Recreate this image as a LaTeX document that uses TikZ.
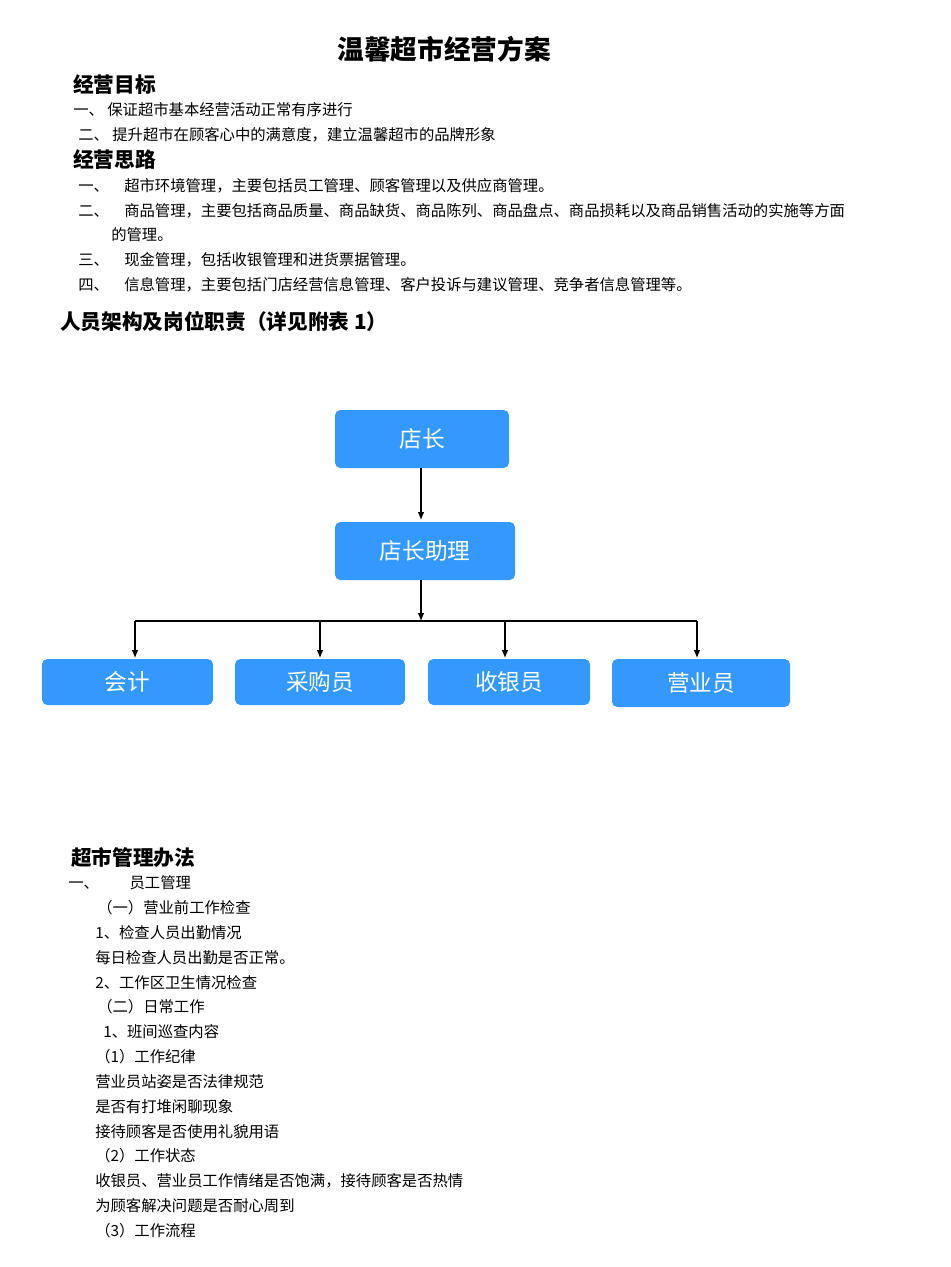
\documentclass[tikz,border=0pt]{standalone}
\usepackage{fontspec}
\setmainfont{Noto Sans CJK SC}
\usetikzlibrary{arrows.meta}
\begin{document}
\begin{tikzpicture}[x=0.75pt,y=-0.75pt,
  body/.style={anchor=west,inner sep=0pt,font=\fontsize{11.5}{13}\selectfont},
  head/.style={anchor=west,inner sep=0pt,font=\fontsize{15.5}{18}\selectfont\bfseries},
  box/.style={fill=blue!55!cyan!80!white,fill=boxc,rounded corners=4pt,text=white,font=\fontsize{17}{20}\selectfont},
  arr/.style={-{Latex[length=6pt,width=5pt]},thick}]
\definecolor{boxc}{HTML}{3399FF}
\useasboundingbox (0,0) rectangle (950,1267);
\node[font=\fontsize{20}{24}\selectfont\bfseries] (title) at (444,49) {温馨超市经营方案};
\node[head] (h1) at (73,85) {经营目标};
\node[body] (a1) at (73,110) {一、 保证超市基本经营活动正常有序进行};
\node[body] (a2) at (78,135) {二、 提升超市在顾客心中的满意度，建立温馨超市的品牌形象};
\node[head] (h2) at (73,160) {经营思路};
\node[body] (b1) at (78,186) {一、\quad 超市环境管理，主要包括员工管理、顾客管理以及供应商管理。};
\node[body] (b2) at (78,211) {二、\quad 商品管理，主要包括商品质量、商品缺货、商品陈列、商品盘点、商品损耗以及商品销售活动的实施等方面};
\node[body] (b3) at (111,235) {的管理。};
\node[body] (b4) at (78,260) {三、\quad 现金管理，包括收银管理和进货票据管理。};
\node[body] (b5) at (78,285) {四、\quad 信息管理，主要包括门店经营信息管理、客户投诉与建议管理、竞争者信息管理等。};
\node[head] (h3) at (60,322) {人员架构及岗位职责（详见附表 1）};

\node[box,minimum width=174*0.75pt,minimum height=58*0.75pt] (n1) at (422,439) {店长};
\node[box,minimum width=180*0.75pt,minimum height=58*0.75pt] (n2) at (425,551) {店长助理};
\node[box,minimum width=171*0.75pt,minimum height=46*0.75pt] (c1) at (127.5,682) {会计};
\node[box,minimum width=170*0.75pt,minimum height=46*0.75pt] (c2) at (320,682) {采购员};
\node[box,minimum width=162*0.75pt,minimum height=46*0.75pt] (c3) at (509,682) {收银员};
\node[box,minimum width=178*0.75pt,minimum height=48*0.75pt,font=\fontsize{17}{20}\selectfont\mdseries] (c4) at (701,683) {营业员};
\coordinate (j) at (421,621);
\draw[arr] (n1.south -| 421,0) -- (421,520);
\draw[arr] (421,580) -- (j);
\draw[thick] (135,621) -- (697,621);
\draw[arr] (135,621) -- (135,658);
\draw[arr] (320,621) -- (320,658);
\draw[arr] (505,621) -- (505,658);
\draw[arr] (697,621) -- (697,658);

\node[head] (h4) at (71,858) {超市管理办法};
\node[body] at (68,883) {一、\qquad 员工管理};
\node[body] at (97,908) {（一）营业前工作检查};
\node[body] at (95,933) {1、检查人员出勤情况};
\node[body] at (95,958) {每日检查人员出勤是否正常。};
\node[body] at (95,983) {2、工作区卫生情况检查};
\node[body] at (97,1007) {（二）日常工作};
\node[body] at (103,1032) {1、班间巡查内容};
\node[body] at (95,1057) {（1）工作纪律};
\node[body] at (95,1082) {营业员站姿是否法律规范};
\node[body] at (95,1107) {是否有打堆闲聊现象};
\node[body] at (95,1132) {接待顾客是否使用礼貌用语};
\node[body] at (95,1156) {（2）工作状态};
\node[body] at (95,1181) {收银员、营业员工作情绪是否饱满，接待顾客是否热情};
\node[body] at (95,1206) {为顾客解决问题是否耐心周到};
\node[body] at (95,1231) {（3）工作流程};
\end{tikzpicture}
\end{document}
